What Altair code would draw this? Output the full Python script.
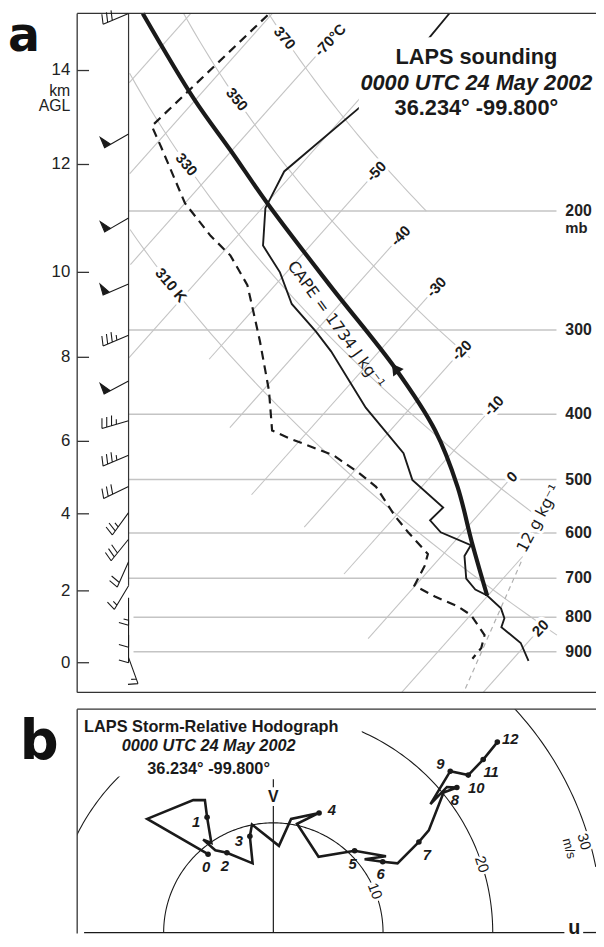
import altair as alt
import numpy as np
import pandas as pd

FONT = "Liberation Sans"
INK = "#1a1a1a"
GRID = "#c4c4c4"
ONE = pd.DataFrame({"z": [0]})

# ---------------- panel a : LAPS sounding ----------------
temp_p = [101.9, 110.5, 139.9, 174.7, 198.0, 225.0, 246.5, 274.6, 301.8, 322.8, 391.2, 456.9, 500.5,
          550.0, 574.7, 598.4, 625.3, 648.8, 701.2, 727.7, 742.6, 775.9, 802.5, 827.2, 873.1, 927.8]
temp_T = [-58.3, -58.1, -59.0, -61.3, -59.6, -55.8, -50.8, -45.9, -39.9, -35.9, -25.5, -15.9, -11.9,
          -5.1, -5.3, -2.7, 2.4, 2.8, 5.5, 7.8, 9.9, 13.0, 14.5, 15.1, 19.2, 22.1]
dewp_p = [102.5, 149.6, 160.6, 194.7, 217.6, 232.8, 257.5, 291.7, 312.1, 369.4, 422.8, 434.4, 460.0,
          488.8, 512.4, 567.0, 598.4, 644.5, 671.2, 718.0, 745.1, 770.7, 794.4, 849.9, 887.9, 921.5]
dewp_T = [-80.4, -82.5, -79.1, -70.0, -63.3, -58.7, -53.4, -48.4, -45.7, -39.2, -34.5, -31.5, -24.3,
          -19.2, -15.6, -10.0, -6.7, -1.9, -1.0, -0.1, 3.6, 7.5, 10.1, 13.9, 14.9, 15.0]
parcel_p = [101.9, 136.6, 162.8, 194.7, 257.5, 341.9, 422.8, 512.4, 619.0, 742.6]
parcel_T = [-95.9, -80.2, -70.1, -59.9, -43.3, -26.2, -14.5, -5.6, 2.2, 9.9]
arrow_p = [341.9]
arrow_T = [-26.2]

iso_T = [-90, -80, -70, -60, -50, -40, -30, -20, -10, 0, 10, 20]
iso_ptop = [101.9, 101.9, 111.6, 113.0, 174.7, 217.6, 259.3, 321.7, 388.6, 495.4, 650.0, 830.0]
iso_pbot = [129.0, 176.0, 240.0, 330.0, 331.6, 418.6, 526.5, 588.0, 690.0, 860.0, 1033.5, 1033.5]
iso_lab_T = [-70, -50, -40, -30, -20, -10, 0, 20]
iso_lab_p = [111.6, 174.7, 217.6, 259.3, 321.7, 388.6, 495.4, 830.0]
iso_lab_txt = ["-70°C", "-50", "-40", "-30", "-20", "-10", "0", "20"]

theta_K = [310, 330, 350, 370]
theta_ptop = [213.0, 125.0, 101.9, 101.9]
theta_pbot = [850.0, 560.0, 330.0, 200.0]
theta_lab_p = [257.5, 170.6, 136.6, 110.8]
theta_lab_txt = ["310 K", "330", "350", "370"]

mix_T = [10.4, 17.6]          # 12 g/kg mixing-ratio line
mix_p = [662.0, 1033.5]

p_levels = [200, 300, 400, 500, 600, 700, 800, 900]
km_vals = [0, 2, 4, 6, 8, 10, 12, 14]
km_p = [934.0, 730.9, 561.9, 438.8, 329.4, 246.5, 170.6, 123.8]

wind_p = [101.9, 153.7, 204.8, 256.6, 305.4, 357.1, 409.1, 460.2, 511.8, 559.5, 612.8, 661.8, 718.3,
          748.0, 806.0, 850.0, 918.0]
wind_dir = [247, 240, 240, 247, 247, 242, 254, 247, 244, 216, 219, 204, 211, 180, 180, 180, 160]
wind_kt = [30, 50, 50, 50, 35, 50, 35, 35, 30, 25, 30, 20, 15, 15, 10, 10, 15]

# ---------------- panel b : storm-relative hodograph (m/s) ----------------
hodo_u = [-5.95, -11.50, -7.30, -6.24, -6.04, -5.65, -6.40, -5.29, -4.23, -1.89, -2.14, -1.95, 0.51,
          1.62, 4.17, 2.16, 4.12, 7.41, 10.27, 8.32, 9.97, 11.32, 13.27, 14.17, 15.52, 16.73, 15.83,
          14.32, 16.13, 17.77, 19.13, 20.42]
hodo_v = [7.14, 10.36, 12.07, 12.07, 10.51, 8.17, 8.47, 7.50, 7.27, 6.31, 8.77, 9.85, 7.90,
          10.36, 10.90, 9.91, 6.91, 7.45, 6.96, 6.69, 6.46, 6.31, 8.26, 9.31, 12.77, 13.22, 13.27,
          11.71, 14.71, 14.35, 15.77, 17.36]
dot_vertex = [0, 4, 8, 10, 14, 17, 20, 22, 25, 28, 29, 30, 31]
dot_label = [str(i) for i in range(13)]
dot_place = ["below", "left", "below", "left", "right", "below", "below", "belowright",
             "below", "upleft", "belowright", "belowright", "right"]
ring_r = [10, 20, 30]
ring_from = [0.0, 0.0, 11.5]
ring_to = [180.0, 155.0, 50.0]
ring_lab_txt = ["10", "20", "30", "m/s"]
ring_lab_u = [9.28, 19.01, 28.35, 26.95]
ring_lab_v = [3.78, 6.22, 8.29, 7.66]
ring_lab_rot = [69, 72, 74, 75]

# ---------------- scales ----------------
K = 32.0
WA, HA = 525, 687
WB, HB = 525, 227
XS = alt.Scale(domain=[-30.861, 32.776], nice=False, zero=False)
YS = alt.Scale(type="log", domain=[101.9, 1033.5], reverse=True, nice=False)
US = alt.Scale(domain=[-17.883, 29.414], nice=False, zero=False)
VS = alt.Scale(domain=[-0.090, 20.360], nice=False, zero=False)

SKEW = f"datum.T + {K}*log(1000/datum.p)"


def sk(df):
    return alt.Chart(df).transform_calculate(X=SKEW)


def XY():
    return dict(x=alt.X("X:Q", scale=XS, axis=None), y=alt.Y("p:Q", scale=YS, axis=None))


def PY():
    return alt.Y("p:Q", scale=YS, axis=None)


def txt(text, x, y, size=14, weight="normal", style="normal", align="center",
        baseline="alphabetic", font=FONT, color=INK):
    return alt.Chart(ONE).mark_text(text=text, fontSize=size, fontWeight=weight, fontStyle=style,
                                    align=align, baseline=baseline, font=font, color=color).encode(
        x=alt.value(x), y=alt.value(y))


def vrule(x, y1, y2, color="#333", w=1.3):
    return alt.Chart(ONE).mark_rule(color=color, strokeWidth=w).encode(
        x=alt.value(x), y=alt.value(y1), y2=alt.value(y2))


def hrule(y, x1, x2, color="#333", w=1.3, opacity=1.0):
    return alt.Chart(ONE).mark_rule(color=color, strokeWidth=w, opacity=opacity).encode(
        y=alt.value(y), x=alt.value(x1), x2=alt.value(x2))


# ---- build tables ----
pl_df = pd.DataFrame({"p": p_levels, "lab": [str(v) for v in p_levels]})
iso_rows = []
for T, pt, pb in zip(iso_T, iso_ptop, iso_pbot):
    iso_rows += [{"T": T, "p": pt, "g": T}, {"T": T, "p": pb, "g": T}]
iso_df = pd.DataFrame(iso_rows)
isolab_df = pd.DataFrame({"T": iso_lab_T, "p": iso_lab_p, "lab": iso_lab_txt})

th_rows = []
for th, pt, pb in zip(theta_K, theta_ptop, theta_pbot):
    for p in np.geomspace(pt, pb, 40):
        th_rows.append({"g": th, "p": p, "T": th * (p / 1000.0) ** 0.2857 - 273.15})
th_df = pd.DataFrame(th_rows)
thlab_df = pd.DataFrame({"p": theta_lab_p, "lab": theta_lab_txt,
                         "T": [th * (p / 1000.0) ** 0.2857 - 273.15 for th, p in zip(theta_K, theta_lab_p)]})
mix_df = pd.DataFrame({"T": mix_T, "p": mix_p})
temp_df = pd.DataFrame({"T": temp_T, "p": temp_p, "i": range(len(temp_T))})
dewp_df = pd.DataFrame({"T": dewp_T, "p": dewp_p, "i": range(len(dewp_T))})
parcel_df = pd.DataFrame({"T": parcel_T, "p": parcel_p, "i": range(len(parcel_T))})
arrow_df = pd.DataFrame({"T": arrow_T, "p": arrow_p})
km_df = pd.DataFrame({"p": km_p, "lab": [str(v) for v in km_vals]})


def barb_path(kt):
    segs = ["M0,0L0,-1"]
    s = 0.0
    n50, r = divmod(kt, 50)
    n10, r = divmod(r, 10)
    n5 = r // 5
    for _ in range(n50):
        segs.append(f"M0,{-1 + s:.3f}L0.40,{-1 + s + 0.05:.3f}L0,{-1 + s + 0.25:.3f}Z")
        s += 0.30
    for _ in range(n10):
        segs.append(f"M0,{-1 + s:.3f}L0.35,{-1 + s + 0.10:.3f}")
        s += 0.18
    for _ in range(n5):
        segs.append(f"M0,{-1 + s:.3f}L0.18,{-1 + s + 0.05:.3f}")
    return "".join(segs)


wind_df = pd.DataFrame({"p": wind_p, "dir": wind_dir, "kt": wind_kt})
wind_df["shape"] = [barb_path(k) for k in wind_kt]

# ---- panel a layers ----
A = []
# invisible layout anchor (fixes the chart's outer bounds)
A.append(hrule(-20, -80, 535, opacity=0.0))
A.append(alt.Chart(pl_df).transform_filter("datum.p <= 700").mark_rule(color=GRID, strokeWidth=1.5)
         .encode(y=PY(), x=alt.value(52), x2=alt.value(485)))
A.append(alt.Chart(pl_df).transform_filter("datum.p > 700").mark_rule(color=GRID, strokeWidth=1.5)
         .encode(y=PY(), x=alt.value(57), x2=alt.value(485)))
A.append(sk(iso_df).mark_line(color=GRID, strokeWidth=1.1).encode(**XY(), detail="g:N", order="p:Q"))
A.append(sk(th_df).mark_line(color=GRID, strokeWidth=1.1).encode(**XY(), detail="g:N", order="p:Q"))
A.append(sk(mix_df).mark_line(color="#b0b0b0", strokeWidth=1.2, strokeDash=[5, 4]).encode(**XY(), order="p:Q"))
# label halos then labels
for df, ang in [(isolab_df, 314), (thlab_df, 50)]:
    A.append(sk(df).mark_text(font=FONT, fontSize=15, fontWeight="bold", angle=ang, baseline="middle",
                              color="white", stroke="white", strokeWidth=7).encode(**XY(), text="lab:N"))
    A.append(sk(df).mark_text(font=FONT, fontSize=15, fontWeight="bold", angle=ang, baseline="middle",
                              color=INK).encode(**XY(), text="lab:N"))
A.append(sk(dewp_df).mark_line(color=INK, strokeWidth=2.2, strokeDash=[9, 6]).encode(**XY(), order="i:Q"))
A.append(sk(temp_df).mark_line(color=INK, strokeWidth=1.9).encode(**XY(), order="i:Q"))
A.append(sk(parcel_df).mark_line(color=INK, strokeWidth=4.2, interpolate="catmull-rom")
         .encode(**XY(), order="i:Q"))
A.append(sk(arrow_df).mark_point(shape="triangle-up", filled=True, color=INK, opacity=1, size=170, angle=324)
         .encode(**XY()))
# title box + title
A.append(alt.Chart(ONE).mark_rect(color="white").encode(
    x=alt.value(285), x2=alt.value(525), y=alt.value(24), y2=alt.value(105)))
A.append(txt("LAPS sounding", 404, 51, size=22, weight="bold"))
A.append(txt("0000 UTC 24 May 2002", 404, 77, size=22, weight="bold", style="italic"))
A.append(txt("36.234°  -99.800°", 404, 103, size=22, weight="bold"))
# in-plot annotations
A.append(sk(pd.DataFrame({"T": [-38.2], "p": [294.8]})).mark_text(
    text="CAPE = 1734 J kg⁻¹", font="DejaVu Sans", fontSize=16, angle=54, baseline="middle",
    color=INK).encode(**XY()))
mixlab = pd.DataFrame({"T": [7.8], "p": [570.9]})
A.append(sk(mixlab).mark_text(
    text="12 g kg⁻¹", font="DejaVu Sans", fontSize=16, angle=298, baseline="middle", color="white",
    stroke="white", strokeWidth=6).encode(**XY()))
A.append(sk(mixlab).mark_text(
    text="12 g kg⁻¹", font="DejaVu Sans", fontSize=16, angle=298, baseline="middle", color=INK).encode(**XY()))
# frame, inner line, height axis
A.append(vrule(0, 0, HA))
A.append(hrule(0, 0, WA))
A.append(hrule(HA, 0, WA))
A.append(vrule(52, 0, 579, w=1.2))
A.append(alt.Chart(km_df).mark_rule(color="#333", strokeWidth=1.3).encode(
    y=PY(), x=alt.value(0), x2=alt.value(12)))
A.append(alt.Chart(km_df).mark_text(font=FONT, fontSize=17, align="right", baseline="middle", color="#222")
         .encode(y=PY(), x=alt.value(-7), text="lab:N"))
A.append(txt("km", -7, 78, size=16, align="right", baseline="middle", color="#222"))
A.append(txt("AGL", -7, 94, size=16, align="right", baseline="middle", color="#222"))
A.append(alt.Chart(pl_df).mark_text(font=FONT, fontSize=16, fontWeight="bold", align="left",
                                    baseline="middle", color="#222")
         .encode(y=PY(), x=alt.value(494), text="lab:N"))
A.append(txt("mb", 494, 217, size=15, weight="bold", align="left", baseline="middle", color="#222"))
# wind barbs
A.append(alt.Chart(wind_df).mark_point(filled=True, color=INK, fill=INK, stroke=INK, strokeWidth=1.1,
                                       opacity=1, size=3136)
         .encode(x=alt.value(52), y=PY(), shape=alt.Shape("shape:N", scale=None),
                 angle=alt.Angle("dir:Q", scale=None)))
A.append(txt("a", -70, 38, size=48, weight="bold", align="left", font="DejaVu Sans", color="#111"))

panelA = alt.layer(*A).properties(width=WA, height=HA)

# ---- panel b layers ----
ring_rows = []
for r, a0, a1 in zip(ring_r, ring_from, ring_to):
    for a in np.arange(a0, a1 + 0.01, 1.0):
        ring_rows.append({"r": r, "a": a, "u": r * np.cos(np.radians(a)), "v": r * np.sin(np.radians(a))})
ring_df = pd.DataFrame(ring_rows)
ringlab_df = pd.DataFrame({"u": ring_lab_u, "v": ring_lab_v, "lab": ring_lab_txt, "rot": ring_lab_rot,
                           "fs": [15, 15, 15, 13]})
hodo_df = pd.DataFrame({"u": hodo_u, "v": hodo_v, "i": range(len(hodo_u))})
dots_df = pd.DataFrame({"u": [hodo_u[k] for k in dot_vertex], "v": [hodo_v[k] for k in dot_vertex],
                        "lab": dot_label, "place": dot_place})
PLACE = {"below": (-2, 13), "left": (-11, 5), "right": (13, -3), "upleft": (-10, -7), "belowright": (8, 13)}


def UV():
    return dict(x=alt.X("u:Q", scale=US, axis=None), y=alt.Y("v:Q", scale=VS, axis=None))


B = []
B.append(hrule(HB + 6, 0, 10, opacity=0.0))   # invisible layout anchor
B.append(alt.Chart(ring_df).mark_line(color=INK, strokeWidth=1.1, clip=True)
         .encode(**UV(), detail="r:N", order="a:Q"))
B.append(alt.Chart(ONE).mark_rect(color="white").encode(
    x=alt.value(1), x2=alt.value(288), y=alt.value(1), y2=alt.value(68)))
for fs in [15, 13]:
    sub = ringlab_df[ringlab_df.fs == fs]
    B.append(alt.Chart(sub).mark_text(font=FONT, fontSize=fs, baseline="middle", color="white",
                                      stroke="white", strokeWidth=5)
             .encode(**UV(), text="lab:N", angle=alt.Angle("rot:Q", scale=None)))
    B.append(alt.Chart(sub).mark_text(font=FONT, fontSize=fs, baseline="middle", color=INK)
             .encode(**UV(), text="lab:N", angle=alt.Angle("rot:Q", scale=None)))
# axes
zero_u = pd.DataFrame({"u": [0.0]})
zero_v = pd.DataFrame({"v": [0.0]})
B.append(alt.Chart(zero_u).mark_rule(color=INK, strokeWidth=1.2).encode(
    x=alt.X("u:Q", scale=US, axis=None), y=alt.value(98), y2=alt.value(HB - 1)))
B.append(alt.Chart(zero_u).mark_rule(color=INK, strokeWidth=1.2).encode(
    x=alt.X("u:Q", scale=US, axis=None), y=alt.value(71), y2=alt.value(79)))
B.append(alt.Chart(zero_u).mark_text(text="V", font=FONT, fontSize=16, fontWeight="bold",
                                     baseline="middle", color=INK).encode(
    x=alt.X("u:Q", scale=US, axis=None), y=alt.value(89)))
B.append(alt.Chart(zero_v).mark_rule(color=INK, strokeWidth=1.3).encode(
    y=alt.Y("v:Q", scale=VS, axis=None), x=alt.value(7), x2=alt.value(493)))
B.append(alt.Chart(zero_v).mark_rule(color=INK, strokeWidth=1.3).encode(
    y=alt.Y("v:Q", scale=VS, axis=None), x=alt.value(512), x2=alt.value(WB)))
B.append(txt("u", 503, 221, size=20, weight="bold", baseline="middle"))
# hodograph trace
B.append(alt.Chart(hodo_df).mark_line(color=INK, strokeWidth=2.6, strokeJoin="miter")
         .encode(**UV(), order="i:Q"))
B.append(alt.Chart(dots_df).mark_circle(color=INK, opacity=1, size=32).encode(**UV()))
for name, (dx, dy) in PLACE.items():
    B.append(alt.Chart(dots_df).transform_filter(alt.datum.place == name)
             .mark_text(font=FONT, fontSize=15, fontWeight="bold", fontStyle="italic", baseline="middle",
                        dx=dx, dy=dy, color=INK)
             .encode(**UV(), text="lab:N"))
# titles
B.append(txt("LAPS Storm-Relative Hodograph", 7, 23, size=16.5, weight="bold", align="left"))
B.append(txt("0000 UTC 24 May 2002", 133, 42, size=16.5, weight="bold", style="italic"))
B.append(txt("36.234°  -99.800°", 133, 66, size=16.5, weight="bold"))
# frame
B.append(vrule(0, 0, HB))
B.append(hrule(0, 0, WB))
B.append(txt("b", -58, 50, size=55, weight="bold", align="left", font="DejaVu Sans", color="#111"))

panelB = alt.layer(*B).properties(width=WB, height=HB)

chart = (alt.vconcat(panelA, panelB, spacing=17, bounds="flush")
         .properties(padding={"left": -10, "top": -20, "right": -10, "bottom": -6})
         .configure_view(strokeWidth=0))

chart.save("out.html", embed_options={"renderer": "svg", "actions": False})
